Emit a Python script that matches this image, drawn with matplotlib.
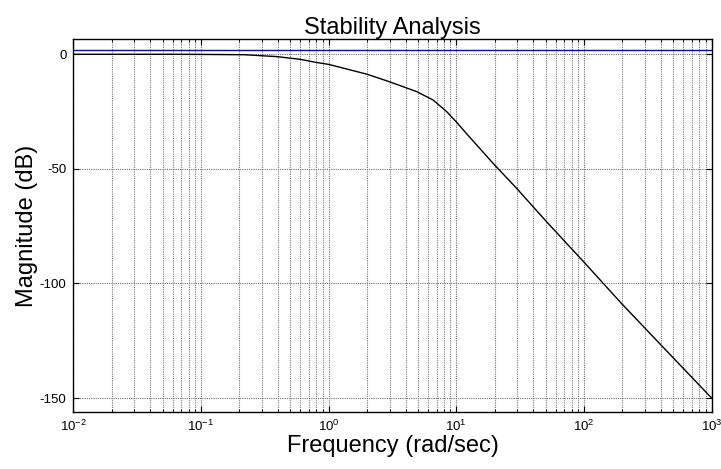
import numpy as np
import matplotlib
matplotlib.use("Agg")
import matplotlib.pyplot as plt
import matplotlib.ticker as mticker

plt.rcParams['font.family'] = ['Liberation Sans', 'DejaVu Sans']
plt.rcParams['mathtext.fontset'] = 'custom'
plt.rcParams['mathtext.rm'] = 'Liberation Sans'
plt.rcParams['axes.unicode_minus'] = False

# magnitude response (rad/sec, dB)
freq = [0.01, 0.06, 0.1, 0.22, 0.39, 0.6, 0.79, 1.0, 2.0, 3.0, 4.9, 6.6, 8.4,
        10.0, 12.1, 15.4, 19.5, 29.8, 51.2, 100.0, 198.0, 394.0, 1000.0]
mag_db = [0.0, 0.0, -0.05, -0.2, -1.0, -2.2, -3.5, -4.4, -8.7, -12.0, -16.3,
          -20.0, -25.0, -29.5, -34.8, -41.3, -47.7, -58.6, -73.2, -90.7,
          -108.9, -126.4, -150.0]

# upper bound line
bound_db = 1.75
freq_range = [1e-2, 1e3]
y_ticks = [0, -50, -100, -150]

fig = plt.figure(figsize=(7.21, 4.69), dpi=100)
ax = fig.add_axes([0.1017, 0.122, 0.8853, 0.794])

ax.semilogx(freq_range, [bound_db, bound_db], color=(0, 0, 1), lw=1.0)
ax.semilogx(freq, mag_db, color='black', lw=1.0)

ax.set_xlim(freq_range)
ax.set_ylim(-156, 6.5)
ax.set_yticks(y_ticks)
ax.xaxis.set_major_locator(mticker.LogLocator(base=10, numticks=10))
ax.xaxis.set_minor_locator(mticker.LogLocator(base=10, subs=np.arange(2, 10), numticks=20))
ax.xaxis.set_minor_formatter(mticker.NullFormatter())

ax.grid(True, which='major', color='#707070', linestyle=(0, (1, 1)), lw=0.8)
ax.grid(True, which='minor', axis='x', color='#7a7a7a', linestyle=(0, (1, 1)), lw=0.8)

ax.tick_params(which='both', direction='in', top=True, right=True, labelsize=9.5)
ax.tick_params(which='major', length=4, width=0.8, pad=5)
ax.tick_params(which='minor', length=2.5, width=0.6)
for sp in ax.spines.values():
    sp.set_linewidth(1.0)

ax.set_title('Stability Analysis', fontsize=17, pad=4)
ax.set_xlabel('Frequency (rad/sec)', fontsize=17, labelpad=1)
ax.set_ylabel('Magnitude (dB)', fontsize=17, labelpad=1)

fig.savefig('out.png', dpi=100)
